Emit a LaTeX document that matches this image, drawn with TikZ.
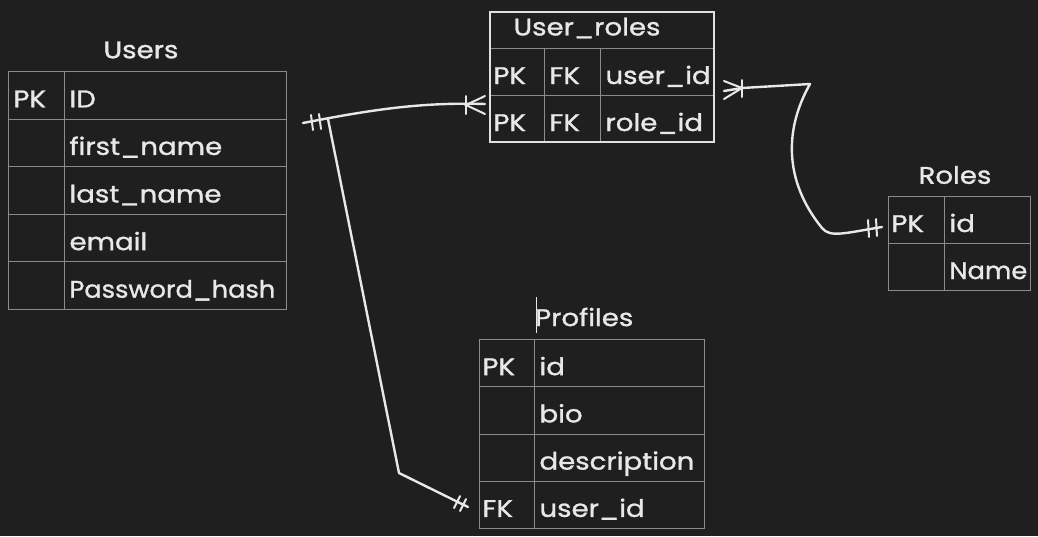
\documentclass[tikz,border=0pt]{standalone}
\usepackage{fontspec}
\setmainfont[FakeStretch=1.15, FakeBold=1.2]{Poppins}
\usetikzlibrary{calc}
\definecolor{bg}{HTML}{1F1F1F}
\definecolor{gridc}{HTML}{8C8C8C}
\definecolor{ink}{HTML}{E8E8E8}
\definecolor{framec}{HTML}{E0E0E0}
\tikzset{
  cell/.style={draw=gridc, line width=1pt, anchor=north west, inner xsep=5pt, inner ysep=0pt,
    align=left, text height=26pt, text depth=2pt, text=ink, font=\fontsize{24}{26}\selectfont},
  keycell/.style={cell, inner xsep=3pt},
  ttl/.style={text=ink, inner sep=0pt, font=\fontsize{24}{26}\selectfont},
  conn/.style={draw=ink, line width=2.4pt, line cap=round, line join=round},
  tick/.style={draw=ink, line width=2pt, line cap=round}
}
\begin{document}
\begin{tikzpicture}[x=1pt,y=-1pt]
\fill[bg] (0,0) rectangle (1038,536);
\useasboundingbox (0,0) rectangle (1038,536);

% ---------- Users ----------
\node[ttl] (usersT) at (141,50) {Users};
\node[cell, minimum height=47.6pt, text width=46pt] (usersK0) at (8,71) {PK};
\node[cell, minimum height=47.6pt, text width=212pt] (usersF0) at (64,71) {ID};
\node[cell, minimum height=47.6pt, text width=46pt] (usersK1) at (8,118.6) {};
\node[cell, minimum height=47.6pt, text width=212pt] (usersF1) at (64,118.6) {first\_name};
\node[cell, minimum height=47.6pt, text width=46pt] (usersK2) at (8,166.2) {};
\node[cell, minimum height=47.6pt, text width=212pt] (usersF2) at (64,166.2) {last\_name};
\node[cell, minimum height=47.6pt, text width=46pt] (usersK3) at (8,213.8) {};
\node[cell, minimum height=47.6pt, text width=212pt] (usersF3) at (64,213.8) {email};
\node[cell, minimum height=47.6pt, text width=46pt] (usersK4) at (8,261.4) {};
\node[cell, minimum height=47.6pt, text width=212pt] (usersF4) at (64,261.4) {\scalebox{0.93}[1]{Password\_hash}};

% ---------- User_roles ----------
\node[ttl] (urT) at (587,28) {User\_roles};
\node[keycell, minimum height=47pt, text width=48pt] (urA0) at (490,48) {PK};
\node[cell, minimum height=47pt, text width=46pt] (urB0) at (544,48) {FK};
\node[cell, minimum height=47pt, text width=104pt] (urC0) at (600,48) {user\_id};
\node[keycell, minimum height=47pt, text width=48pt] (urA1) at (490,95) {PK};
\node[cell, minimum height=47pt, text width=46pt] (urB1) at (544,95) {FK};
\node[cell, minimum height=47pt, text width=104pt] (urC1) at (600,95) {role\_id};
\draw[framec, line width=2.5pt] (490,12) rectangle (714,142);

% ---------- Roles ----------
\node[ttl] (rolesT) at (955,175) {Roles};
\node[keycell, minimum height=47pt, text width=50pt] (rolesK0) at (888,196) {PK};
\node[cell, minimum height=47pt, text width=76pt] (rolesF0) at (944,196) {id};
\node[cell, minimum height=47pt, text width=46pt] (rolesK1) at (888,243) {};
\node[cell, minimum height=47pt, text width=76pt] (rolesF1) at (944,243) {\scalebox{0.93}[1]{Name}};

% ---------- Profiles ----------
\node[ttl, anchor=west] (profT) at (535,317) {Profiles};
\draw[ink, line width=0.8pt] (536,297) -- (536,333);
\node[keycell, minimum height=47.25pt, text width=49pt] (profK0) at (479,339) {PK};
\node[cell, minimum height=47.25pt, text width=160pt] (profF0) at (534,339) {id};
\node[cell, minimum height=47.25pt, text width=45pt] (profK1) at (479,386.25) {};
\node[cell, minimum height=47.25pt, text width=160pt] (profF1) at (534,386.25) {bio};
\node[cell, minimum height=47.25pt, text width=45pt] (profK2) at (479,433.5) {};
\node[cell, minimum height=47.25pt, text width=160pt] (profF2) at (534,433.5) {description};
\node[keycell, minimum height=47.25pt, text width=49pt] (profK3) at (479,480.75) {FK};
\node[cell, minimum height=47.25pt, text width=160pt] (profF3) at (534,480.75) {user\_id};

% ---------- connector end points ----------
\coordinate (uOut1) at (303,123);
\coordinate (uOut2) at (328,119);
\coordinate (urIn) at (485,104);
\coordinate (urOut) at (724,91);
\coordinate (rIn) at (882,227);
\coordinate (pIn) at (468,507);

% Users -> User_roles
\draw[conn] (uOut1) .. controls (370,110) and (420,102) .. (urIn);
\draw[tick] (311,115) -- (313,130);
\draw[tick] (319,114) -- (321,129);
\draw[tick] (485,96) -- (466,105) -- (485,114);
\draw[tick] (466,96) -- (466,114);

% Users -> Profiles
\draw[conn] (uOut2) -- (399,473) -- (pIn);
\draw[tick] (460,496) -- (454,508);
\draw[tick] (466,499) -- (460,511);

% User_roles -> Roles
\draw[conn] (urOut) -- (742,88) -- (810,84) .. controls (785,128) and (783,180) .. (822,228)
  .. controls (830,238) and (845,233) .. (rIn);
\draw[tick] (724,81) -- (742,88) -- (724,99);
\draw[tick] (742,80) -- (742,97);
\draw[tick] (868,220) -- (869,237);
\draw[tick] (876,219) -- (877,236);
\end{tikzpicture}
\end{document}
